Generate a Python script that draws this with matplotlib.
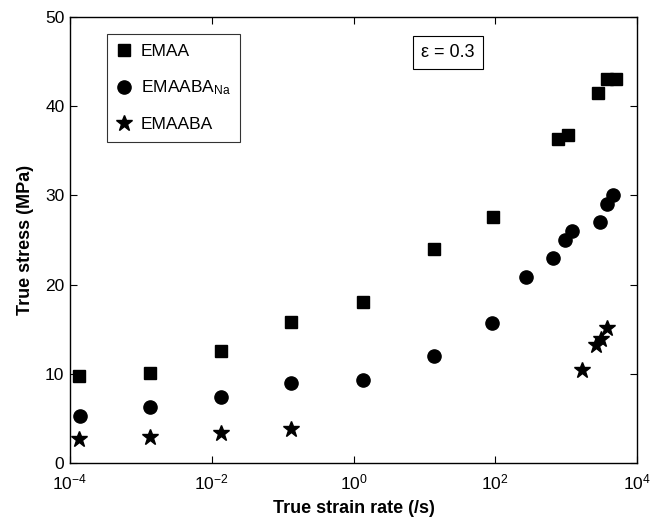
import numpy as np
import matplotlib
matplotlib.use("Agg")
import matplotlib.pyplot as plt

plt.rcParams['font.family'] = ['Liberation Sans', 'DejaVu Sans']
plt.rcParams['mathtext.fontset'] = 'custom'
plt.rcParams['mathtext.rm'] = 'Liberation Sans'
plt.rcParams['mathtext.it'] = 'Liberation Sans:italic'
plt.rcParams['mathtext.bf'] = 'Liberation Sans:bold'

# Data (log10 of strain rate, stress in MPa)
emaa_rate = 10 ** np.array([-3.87, -2.87, -1.87, -0.88, 0.14, 1.13, 1.97, 2.89, 3.02, 3.45, 3.57, 3.71])
emaa_stress = [9.7, 10.1, 12.6, 15.8, 18.0, 24.0, 27.6, 36.3, 36.8, 41.5, 43.0, 43.0]

na_rate = 10 ** np.array([-3.86, -2.87, -1.87, -0.88, 0.14, 1.13, 1.96, 2.44, 2.81, 2.99, 3.08, 3.48, 3.57, 3.66])
na_stress = [5.3, 6.3, 7.4, 9.0, 9.3, 12.0, 15.7, 20.9, 23.0, 25.0, 26.0, 27.0, 29.0, 30.0]

ba_rate = 10 ** np.array([-3.87, -2.87, -1.87, -0.88, 3.23, 3.42, 3.49, 3.58])
ba_stress = [2.7, 2.9, 3.4, 3.8, 10.4, 13.2, 13.9, 15.1]

labels = ['EMAA', r'EMAABA$_{\mathrm{Na}}$', 'EMAABA']
xticks = [1e-4, 1e-2, 1e0, 1e2, 1e4]
yticks = [0, 10, 20, 30, 40, 50]

fig = plt.figure(figsize=(6.52, 5.24), dpi=100)
ax = fig.add_axes([70/652, 1 - 463/524, 567/652, 446/524])

ax.plot(emaa_rate, emaa_stress, 's', color='black', markersize=8.5, linestyle='none', label=labels[0])
ax.plot(na_rate, na_stress, 'o', color='black', markersize=9.5, linestyle='none', label=labels[1])
ax.plot(ba_rate, ba_stress, '*', color='black', markersize=12, linestyle='none', label=labels[2])

ax.set_xscale('log')
ax.set_xlim(1e-4, 1e4)
ax.set_ylim(0, 50)
ax.set_xticks(xticks)
ax.set_yticks(yticks)
ax.xaxis.set_minor_locator(matplotlib.ticker.NullLocator())
ax.tick_params(which='both', direction='in', top=True, right=True, length=5, width=0.8, labelsize=12.5, pad=4)
ax.tick_params(axis='x', pad=7)
for s in ax.spines.values():
    s.set_linewidth(1.0)

ax.set_xlabel('True strain rate (/s)', fontsize=13, fontweight='bold', labelpad=5)
ax.set_ylabel('True stress (MPa)', fontsize=13, fontweight='bold', labelpad=8)

leg = ax.legend(loc='upper left', bbox_to_anchor=(0.065, 0.962), fontsize=12.5, frameon=True, fancybox=False,
                edgecolor='black', borderpad=0.55, labelspacing=1.15, handletextpad=0.5, handlelength=0.9,
                borderaxespad=0)
leg.get_frame().set_linewidth(0.8)

ax.text(0.667, 0.92, 'ε = 0.3', transform=ax.transAxes, fontsize=13, ha='center', va='center',
        bbox=dict(boxstyle='square,pad=0.45', facecolor='white', edgecolor='black', linewidth=0.8))

fig.savefig('out.png', dpi=100)
